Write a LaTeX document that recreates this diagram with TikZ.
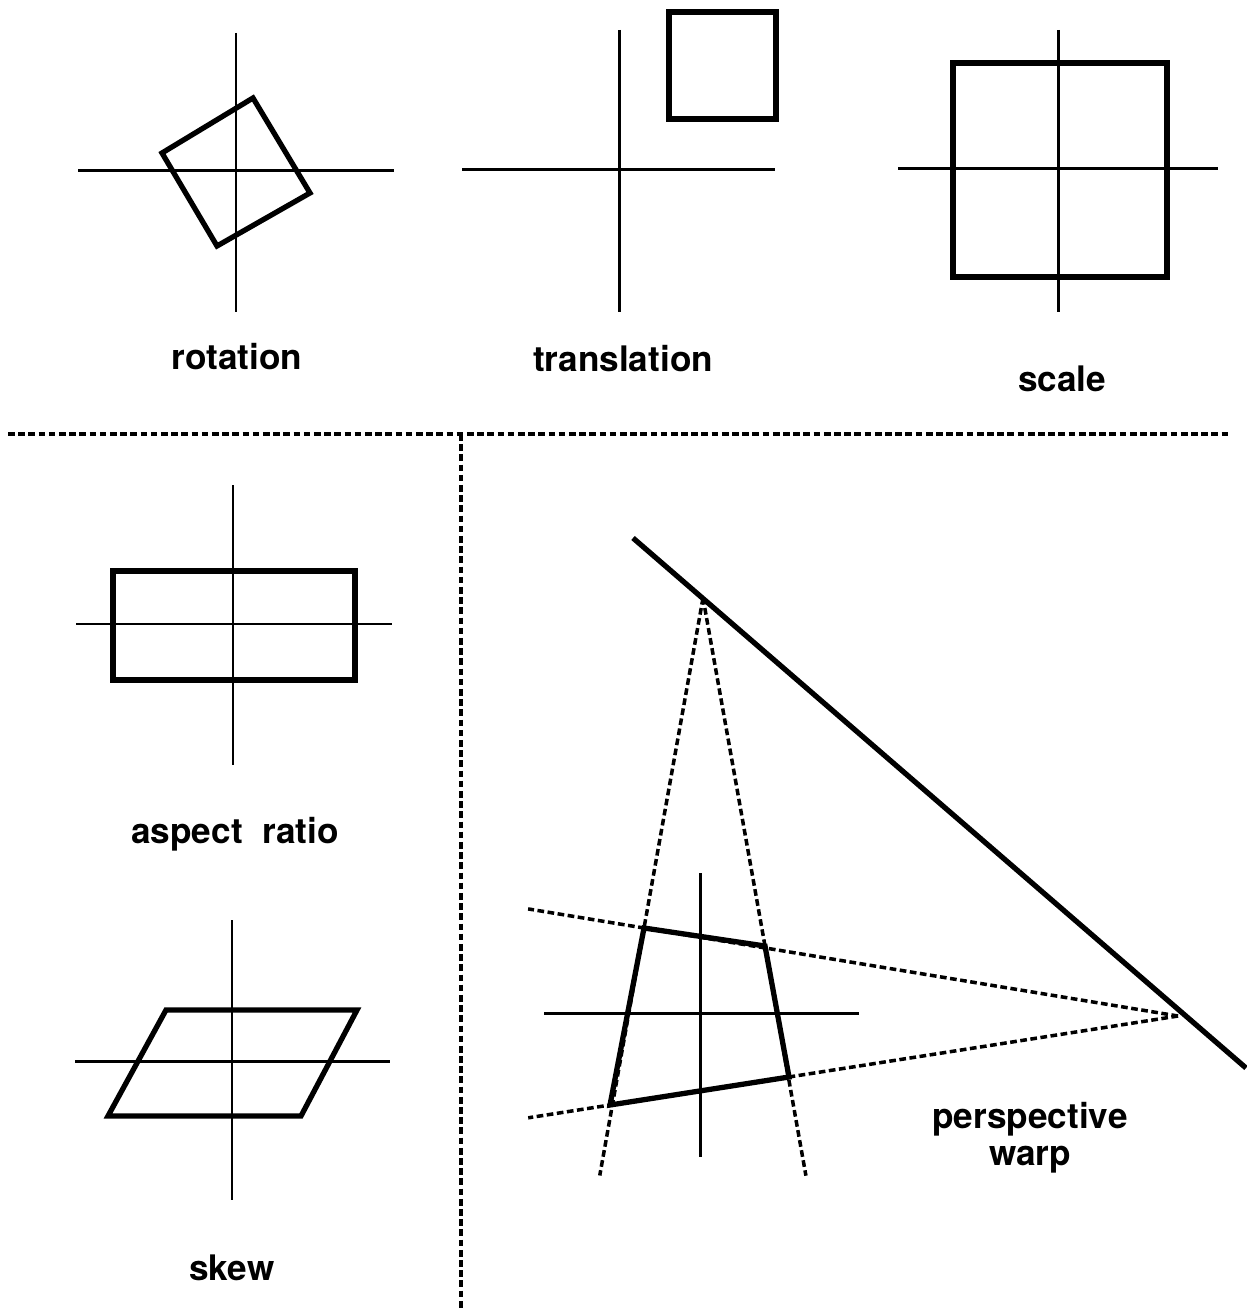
\documentclass[tikz,border=0pt]{standalone}
\usepackage{fontspec}
\setmainfont{TeX Gyre Heros}
\usetikzlibrary{calc}

\begin{document}
\begin{tikzpicture}[x=0.01cm,y=-0.01cm,
  axis/.style={line width=0.85pt},
  figline/.style={line width=1.5pt,line join=miter},
  guide/.style={line width=1pt,dash pattern=on 1.9pt off 1.0pt},
  lbl/.style={font=\bfseries\fontsize{10}{11}\selectfont,align=center}]
  \useasboundingbox (0,0) rectangle (1246,1313);
  % rotation
  \draw[axis] (236,33)--(236,312) (78,171)--(394,171);
  \draw[figline] (162,153)--(253,98)--(310,193)--(217,246)--cycle;
  \node[lbl] (rot) at (237,357) {rotation};
  % translation
  \draw[axis] (619,30)--(619,312) (462,170)--(775,170);
  \draw[figline] (669,12) rectangle (776,119);
  \node[lbl] (trans) at (623,359) {translation};
  % scale
  \draw[axis] (1058,30)--(1058,312) (898,169)--(1218,169);
  \draw[figline] (953,63) rectangle (1167,277);
  \node[lbl] (scl) at (1062,379) {scale};
  % trennlinien
  \draw[guide] (8,434)--(1230,434);
  \draw[guide] (461,434)--(461,1310);
  % aspect ratio
  \draw[axis] (233,485)--(233,765) (76,624)--(392,624);
  \draw[figline] (113,571) rectangle (355,680);
  \node[lbl] (asp) at (235,834) {aspect\ \ ratio};
  % skew
  \draw[axis] (232,920)--(232,1200) (75,1061)--(390,1061);
  \draw[figline] (166,1010)--(357,1010)--(301,1116)--(108,1116)--cycle;
  \node[lbl] (skw) at (232,1268) {skew};
  % perspective warp
  \coordinate (vpa) at (703,598);
  \coordinate (vpb) at (1178,1016);
  \coordinate (qa) at (644,928);
  \coordinate (qb) at (765,946);
  \coordinate (qc) at (789,1077);
  \coordinate (qd) at (610,1105);
  \draw[figline] (633,538)--(1246,1068);
  \draw[guide] (vpa)--($(vpa)!1.75!(qa)$);
  \draw[guide] (vpa)--($(vpa)!1.66!(qb)$);
  \draw[guide] (vpb)--($(vpb)!1.217!(qa)$);
  \draw[guide] (vpb)--($(vpb)!1.144!(qd)$);
  \draw[axis] (700,873)--(700,1157) (544,1013)--(859,1013);
  \draw[figline] (qa)--(qb)--(qc)--(qd)--cycle;
  \node[lbl,inner sep=0pt] (persp) at (1030,1138) {perspective\\[-0.5pt]warp};
\end{tikzpicture}
\end{document}
